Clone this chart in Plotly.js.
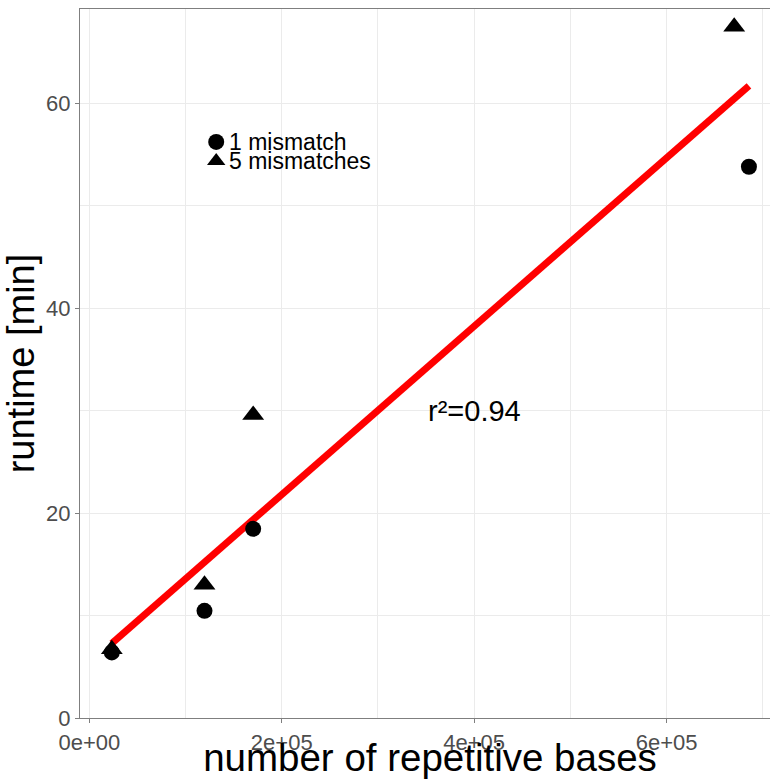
<!DOCTYPE html>
<html>
<head>
<meta charset="utf-8">
<script src="https://cdn.plot.ly/plotly-3.0.1.min.js"></script>
<style>
html,body{margin:0;padding:0;overflow:hidden;background:#fff;}
#chart{width:780px;height:779px;}
</style>
</head>
<body>
<div id="chart"></div>
<script>
// number of repetitive bases
const bases1 = [23360, 119700, 170300, 685600];   // 1 mismatch
const runtime1 = [6.4, 10.46, 18.46, 53.8];
const bases5 = [23360, 119700, 170300, 670300];   // 5 mismatches
const runtime5 = [6.7, 13.0, 29.58, 67.46];
const seriesNames = ['1 mismatch', '5 mismatches'];
const xTickVals = [0, 200000, 400000, 600000];
const xTickText = ['0e+00', '2e+05', '4e+05', '6e+05'];
const yTickVals = [0, 20, 40, 60];
const yTickText = ['0', '20', '40', '60'];
const r2Label = 'r²=0.94';

// least squares fit over all points
const allX = bases1.concat(bases5);
const allY = runtime1.concat(runtime5);
const n = allX.length;
const mx = allX.reduce((a,b)=>a+b,0)/n;
const my = allY.reduce((a,b)=>a+b,0)/n;
let sxy = 0, sxx = 0;
for (let i=0;i<n;i++){ sxy += (allX[i]-mx)*(allY[i]-my); sxx += (allX[i]-mx)**2; }
const slope = sxy/sxx, icpt = my - slope*mx;
const xmin = Math.min(...allX), xmax = Math.max(...allX);
const fitX = [xmin, xmax];
const fitY = fitX.map(v => icpt + slope*v);

const FONT = 'Liberation Sans, Arial, sans-serif';

const traces = [
  {x: fitX, y: fitY, mode: 'lines', line: {color: '#ff0000', width: 7}, showlegend: false, hoverinfo: 'skip'},
  {x: bases5, y: runtime5, name: ' ', mode: 'markers', type: 'scatter',
   marker: {symbol: 'triangle-up', size: 19, color: '#000000'}, legend: 'legend2'},
  {x: bases1, y: runtime1, name: ' ', mode: 'markers', type: 'scatter',
   marker: {symbol: 'circle', size: 16, color: '#000000'}, legend: 'legend'}
];

const axisCommon = {
  showline: true, mirror: true, linecolor: '#7f7f7f', linewidth: 1.2,
  showgrid: true, gridcolor: '#ebebeb', gridwidth: 1,
  zeroline: false, ticks: 'outside', ticklen: 4, tickcolor: '#7f7f7f', tickwidth: 1,
  tickfont: {family: FONT, size: 22, color: '#4d4d4d'}
};

const legendCommon = {xanchor: 'left', yanchor: 'middle', bgcolor: 'rgba(0,0,0,0)',
  font: {family: FONT, size: 23, color: '#000000'}, itemwidth: 30};

// plot area: x 80..780, y 9..718 (page cropped to 770x779)
const H = 779, PT = 9, PB = 718;
const py = v => (PB - v) / (PB - PT);

const layout = {
  width: 780, height: H,
  margin: {l: 80, r: 0, t: PT, b: H - PB},
  paper_bgcolor: '#ffffff', plot_bgcolor: '#ffffff',
  font: {family: FONT},
  xaxis: Object.assign({}, axisCommon, {
    range: [-9700, 717900], tickmode: 'array', tickvals: xTickVals, ticktext: xTickText,
    minor: {dtick: 100000, tick0: 0, showgrid: true, gridcolor: '#ebebeb', gridwidth: 1, ticks: ''},
    title: {text: 'number of repetitive bases', font: {family: FONT, size: 38.5, color: '#000000'}, standoff: 9},
    automargin: false
  }),
  yaxis: Object.assign({}, axisCommon, {
    range: [0, 69.2], tickmode: 'array', tickvals: yTickVals, ticktext: yTickText,
    minor: {dtick: 10, tick0: 0, showgrid: true, gridcolor: '#ebebeb', gridwidth: 1, ticks: ''},
    title: {text: 'runtime [min]', font: {family: FONT, size: 38, color: '#000000'}, standoff: 5},
    automargin: false
  }),
  legend: Object.assign({x: 0.166, y: py(142)}, legendCommon),
  legend2: Object.assign({x: 0.166, y: py(161)}, legendCommon),
  annotations: [
    {x: 400000, y: 30, xref: 'x', yref: 'y', text: r2Label, showarrow: false,
     font: {family: FONT, size: 29, color: '#000000'}},
    {x: 0.21, y: py(142), xref: 'paper', yref: 'paper', xanchor: 'left', yanchor: 'middle',
     text: seriesNames[0], showarrow: false, font: {family: FONT, size: 23, color: '#000000'}},
    {x: 0.21, y: py(161), xref: 'paper', yref: 'paper', xanchor: 'left', yanchor: 'middle',
     text: seriesNames[1], showarrow: false, font: {family: FONT, size: 23, color: '#000000'}}
  ],
  showlegend: true
};

Plotly.newPlot('chart', traces, layout, {displayModeBar: false, staticPlot: true});
</script>
</body>
</html>
